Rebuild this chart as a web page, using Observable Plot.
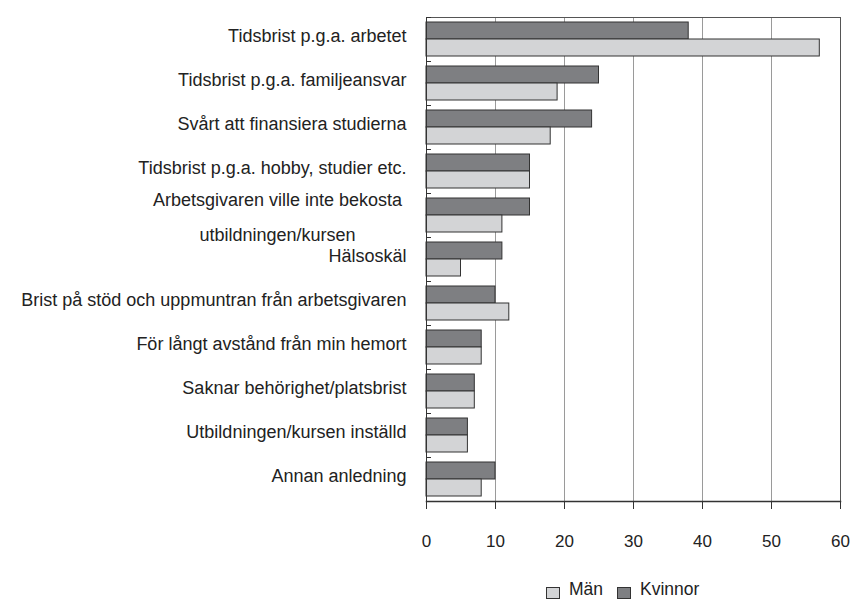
<!DOCTYPE html>
<html>
<head>
<meta charset="utf-8">
<script src="https://cdn.jsdelivr.net/npm/d3@7"></script>
<script src="https://cdn.jsdelivr.net/npm/@observablehq/plot@0.6"></script>
<style>
  body { margin: 0; background: #fff; }
  #chart { position: relative; width: 853px; height: 599px; overflow: hidden; }
  .legend { position: absolute; left: 546px; top: 581px; display: flex; align-items: center;
    font: 17.5px 'Liberation Sans', Arial, sans-serif;
    line-height: 17px; color: #222; }
  .legend .item { display: flex; align-items: center; margin-right: 14px; }
  .legend .sw { width: 12px; height: 10px; border: 1px solid #333; margin-right: 9px; position: relative; top: 3px; }
</style>
</head>
<body>
<div id="chart"></div>
<script>
const categories = [
  "Tidsbrist p.g.a. arbetet",
  "Tidsbrist p.g.a. familjeansvar",
  "Svårt att finansiera studierna",
  "Tidsbrist p.g.a. hobby, studier etc.",
  "Arbetsgivaren ville inte bekosta\nutbildningen/kursen",
  "Hälsoskäl",
  "Brist på stöd och uppmuntran från arbetsgivaren",
  "För långt avstånd från min hemort",
  "Saknar behörighet/platsbrist",
  "Utbildningen/kursen inställd",
  "Annan anledning"
];
const kvinnor = [38, 25, 24, 15, 15, 11, 10, 8, 7, 6, 10];
const man     = [57, 19, 18, 15, 11, 5, 12, 8, 7, 6, 8];
const barOrder = ["Kvinnor", "Män"];
const legendOrder = ["Män", "Kvinnor"];
const seriesColors = ["#7e7f82", "#d3d4d6"];
const xTicks = [0, 10, 20, 30, 40, 50, 60];
const wrappedCategory = categories[4];

const data = categories.flatMap((c, i) => [
  {category: c, series: "Kvinnor", value: kvinnor[i]},
  {category: c, series: "Män", value: man[i]}
]);

const W = 853, H = 568, ML = 426, MR = 13, MT = 13, MB = 63;
const FONT = "'Liberation Sans', Arial, sans-serif";

const chart = Plot.plot({
  width: W, height: H,
  marginLeft: ML, marginRight: MR, marginTop: MT, marginBottom: MB,
  style: {fontFamily: FONT, fontSize: "18px", color: "#222", background: "#fff"},
  x: {domain: [0, 60], axis: null},
  fy: {domain: categories, padding: 0, axis: null},
  y: {domain: barOrder, paddingInner: 0, paddingOuter: 0.23, axis: null},
  color: {domain: barOrder, range: seriesColors},
  marks: [
    Plot.gridX(xTicks, {stroke: "#9a9a9a", strokeOpacity: 1, strokeWidth: 1}),
    Plot.barX(data, {fy: "category", y: "series", x: "value", fill: "series", stroke: "#333", strokeWidth: 1}),
    Plot.frame({anchor: "top", facetAnchor: "top", stroke: "#555"}),
    Plot.frame({anchor: "right", stroke: "#555"}),
    Plot.frame({anchor: "left", stroke: "#333"}),
    Plot.frame({anchor: "top", insetRight: W - ML - MR - 4, stroke: "#333"}),
    Plot.axisX({anchor: "bottom", ticks: xTicks, tickSize: 8, tickPadding: 25, label: null, fontSize: 17, stroke: "#333"}),
    Plot.frame({anchor: "bottom", facetAnchor: "bottom", stroke: "#333", strokeWidth: 1.5}),
    Plot.axisFy({anchor: "left", tickSize: 0, tickPadding: 20, dy: -3, label: null,
      tickFormat: d => d === wrappedCategory ? "" : d}),
    Plot.text([wrappedCategory], {fy: d => d, text: d => d, frameAnchor: "left",
      dx: -149, dy: -3, textAnchor: "middle", lineAnchor: "middle", lineHeight: 1.94})
  ]
});

const root = document.getElementById("chart");
root.appendChild(chart);

const legend = document.createElement("div");
legend.className = "legend";
legendOrder.forEach(name => {
  const item = document.createElement("div");
  item.className = "item";
  const sw = document.createElement("span");
  sw.className = "sw";
  sw.style.background = seriesColors[barOrder.indexOf(name)];
  const label = document.createElement("span");
  label.textContent = name;
  item.appendChild(sw);
  item.appendChild(label);
  legend.appendChild(item);
});
root.appendChild(legend);
</script>
</body>
</html>
